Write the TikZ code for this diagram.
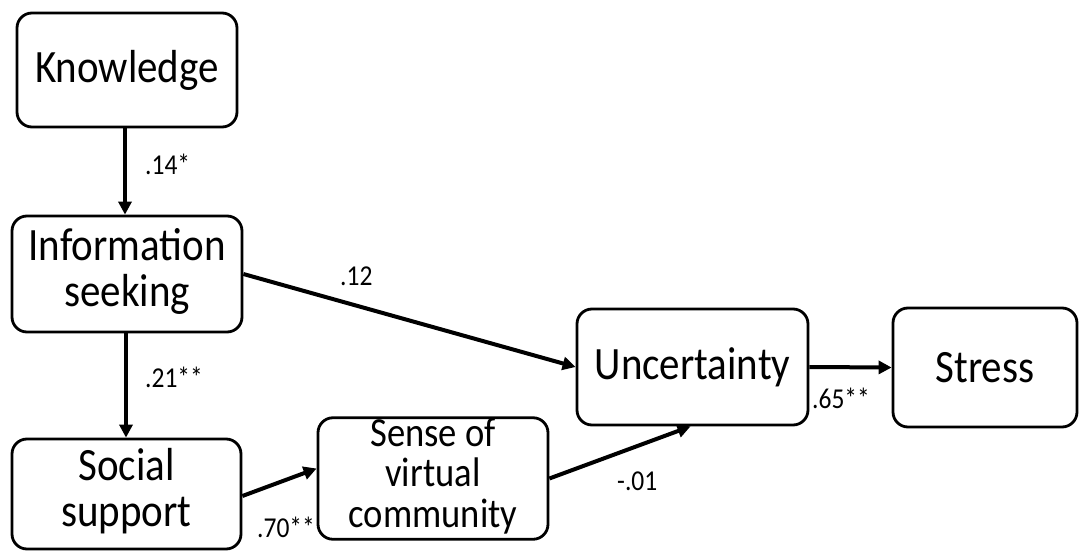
\documentclass[tikz,border=0pt]{standalone}
\usepackage{fontspec}
\setmainfont{Carlito}
\usetikzlibrary{arrows.meta}
\newcommand{\tallify}[1]{\scalebox{1}[1.13]{#1}}
\newcommand{\boxtext}[1]{\tallify{\fontsize{41}{40.7}\selectfont\begin{tabular}{@{}c@{}}#1\end{tabular}}}
\newcommand{\smallboxtext}[1]{\tallify{\fontsize{36.6}{35.4}\selectfont\begin{tabular}{@{}c@{}}#1\end{tabular}}}
\newcommand{\coef}[1]{\tallify{\fontsize{25.5}{30}\selectfont #1}}
\tikzset{
  varbox/.style={draw=black, line width=2.8pt, rounded corners=15pt, fill=white,
    inner sep=0pt, align=center},
  path/.style={line width=4pt, -{Triangle[length=13pt,width=13pt]}},
  coeflabel/.style={inner sep=0pt, anchor=west}
}
\begin{document}
\begin{tikzpicture}[x=1pt, y=-1pt]
  \useasboundingbox[fill=white] (0,0) rectangle (1080,552);

  % variables
  \node[varbox, minimum width=220pt, minimum height=114pt] (know) at (127,70)
    {\tallify{\fontsize{41}{41}\selectfont Knowledge}};
  \node[varbox, minimum width=230pt, minimum height=116pt] (info) at (127,274)
    {\boxtext{Information\\seeking}};
  \node[varbox, minimum width=229pt, minimum height=110pt] (soc) at (126.5,494)
    {\boxtext{Social\\support}};
  \node[varbox, minimum width=230pt, minimum height=115pt] (sense) at (433,478.5)
    {\smallboxtext{Sense of\\virtual\\community}};
  \node[varbox, minimum width=231pt, minimum height=116pt] (unc) at (692.5,367)
    {\tallify{\fontsize{41}{41}\selectfont Uncertainty}};
  \node[varbox, minimum width=184pt, minimum height=119pt] (stress) at (985,367.5)
    {\tallify{\fontsize{41}{41}\selectfont Stress}};

  % paths
  \draw[path] ([xshift=-2pt]know.south) -- ([xshift=-2pt]know.south |- info.north);
  \draw[path] ([xshift=-1pt]info.south) -- ([xshift=-1pt]info.south |- soc.north);
  \draw[path] (info.east) -- (unc.west);
  \draw[path] ([yshift=-2pt]soc.east) -- ([yshift=10pt]sense.west);
  \draw[path] (sense.east) -- ([xshift=-2pt]unc.south);
  \draw[path] (unc.east) -- (stress.west);

  % path coefficients
  \node[coeflabel] (c1) at (145,164) {\coef{.14*}};
  \node[coeflabel] (c2) at (145,377.5) {\coef{.21**}};
  \node[coeflabel] (c3) at (340,276.5) {\coef{.12}};
  \node[coeflabel] (c4) at (257,527) {\coef{.70**}};
  \node[coeflabel] (c5) at (617,481) {\coef{-.01}};
  \node[coeflabel] (c6) at (812,398.5) {\coef{.65**}};
\end{tikzpicture}
\end{document}
